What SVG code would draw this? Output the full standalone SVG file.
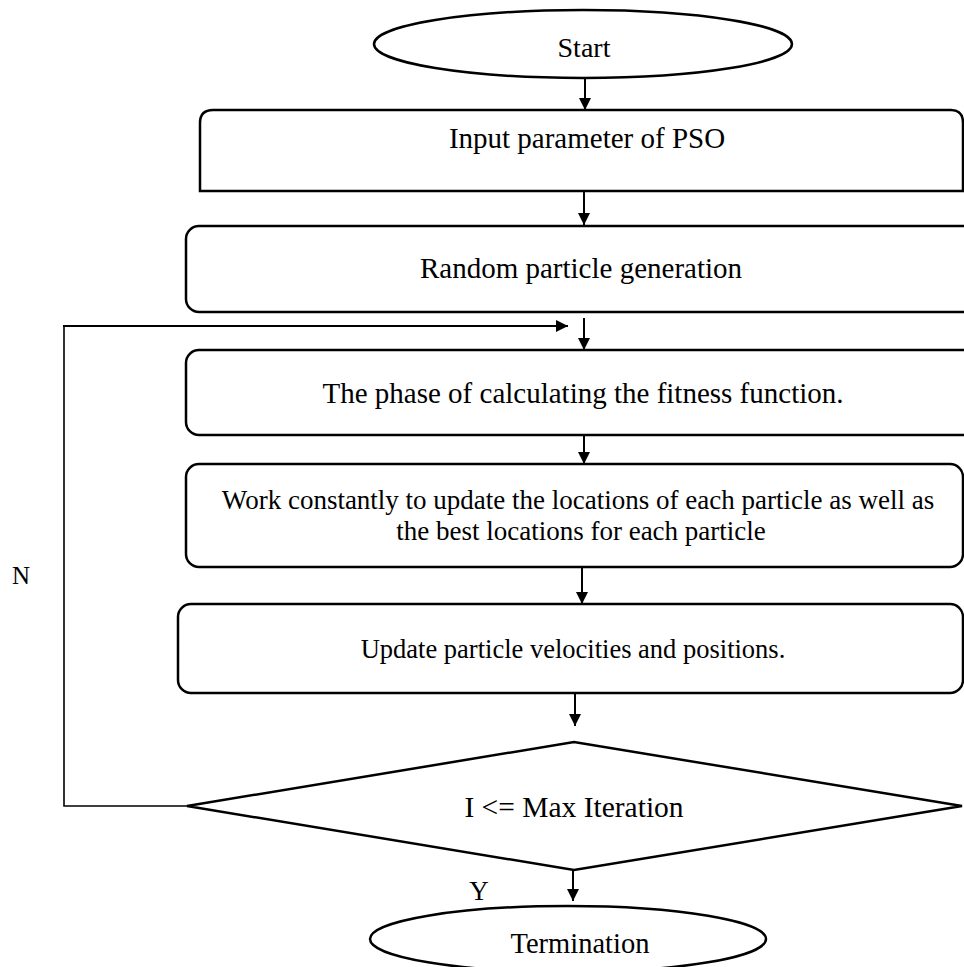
<svg xmlns="http://www.w3.org/2000/svg" width="964" height="967" viewBox="0 0 964 967">
<style>
.s{fill:#fff;stroke:#000;stroke-width:2.5}
.t{font-family:"Liberation Serif","Times New Roman",serif;fill:#000;text-anchor:middle}
.a{stroke:#000;stroke-width:2;fill:none}
.l{stroke:#000;stroke-width:1.6;fill:none}
</style>
<defs>
<marker id="ah" viewBox="0 0 12 12" refX="12" refY="6" markerWidth="12" markerHeight="12" markerUnits="userSpaceOnUse" orient="auto">
<path d="M0,0 L12,6 L0,12 Z" fill="#000"/>
</marker>
</defs>
<rect width="964" height="967" fill="#fff"/>
<g id="start">
<ellipse class="s" cx="583" cy="44" rx="209" ry="34"/>
<text class="t" x="584" y="57" font-size="28">Start</text>
</g>
<g id="input">
<path class="s" d="M200,191 V123 Q200,110 213,110 H951 Q963,110 963,123 V191 Z"/>
<text class="t" x="587" y="148" font-size="29">Input parameter of PSO</text>
</g>
<g id="random">
<rect class="s" x="186" y="226" width="800" height="86" rx="13"/>
<text class="t" x="581" y="278" font-size="29">Random particle generation</text>
</g>
<g id="fitness">
<rect class="s" x="186" y="350" width="800" height="85" rx="13"/>
<text class="t" x="583" y="403" font-size="29">The phase of calculating the fitness function.</text>
</g>
<g id="update-locations">
<rect class="s" x="186" y="464" width="777" height="103" rx="13"/>
<text class="t" x="578" y="509" font-size="27">Work constantly to update the locations of each particle as well as</text>
<text class="t" x="581" y="540" font-size="27">the best locations for each particle</text>
</g>
<g id="update-velocities">
<rect class="s" x="178" y="604" width="785" height="89" rx="13"/>
<text class="t" x="573" y="658" font-size="26.5">Update particle velocities and positions.</text>
</g>
<g id="decision">
<polygon class="s" points="187,806 574,742 962,806 574,870"/>
<text class="t" x="574" y="817" font-size="29.5">I &lt;= Max Iteration</text>
</g>
<g id="termination">
<ellipse class="s" cx="568" cy="939" rx="198" ry="33"/>
<text class="t" x="580" y="953" font-size="28.5">Termination</text>
</g>
<g id="labels">
<text class="t" x="21" y="584" font-size="25">N</text>
<text class="t" x="479" y="900" font-size="27">Y</text>
</g>
<g id="connectors">
<line class="a" x1="585" y1="78" x2="585" y2="110" marker-end="url(#ah)"/>
<line class="a" x1="584" y1="191" x2="584" y2="225" marker-end="url(#ah)"/>
<line class="a" x1="584" y1="318" x2="584" y2="350" marker-end="url(#ah)"/>
<line class="a" x1="584" y1="435" x2="584" y2="464" marker-end="url(#ah)"/>
<line class="a" x1="582" y1="567" x2="582" y2="604" marker-end="url(#ah)"/>
<line class="a" x1="575" y1="693" x2="575" y2="726" marker-end="url(#ah)"/>
<line class="a" x1="573" y1="870" x2="573" y2="901" marker-end="url(#ah)"/>
<polyline class="l" points="187,806 64,806 64,326"/>
<line class="a" x1="63" y1="326" x2="568" y2="326" marker-end="url(#ah)"/>
</g>
</svg>
